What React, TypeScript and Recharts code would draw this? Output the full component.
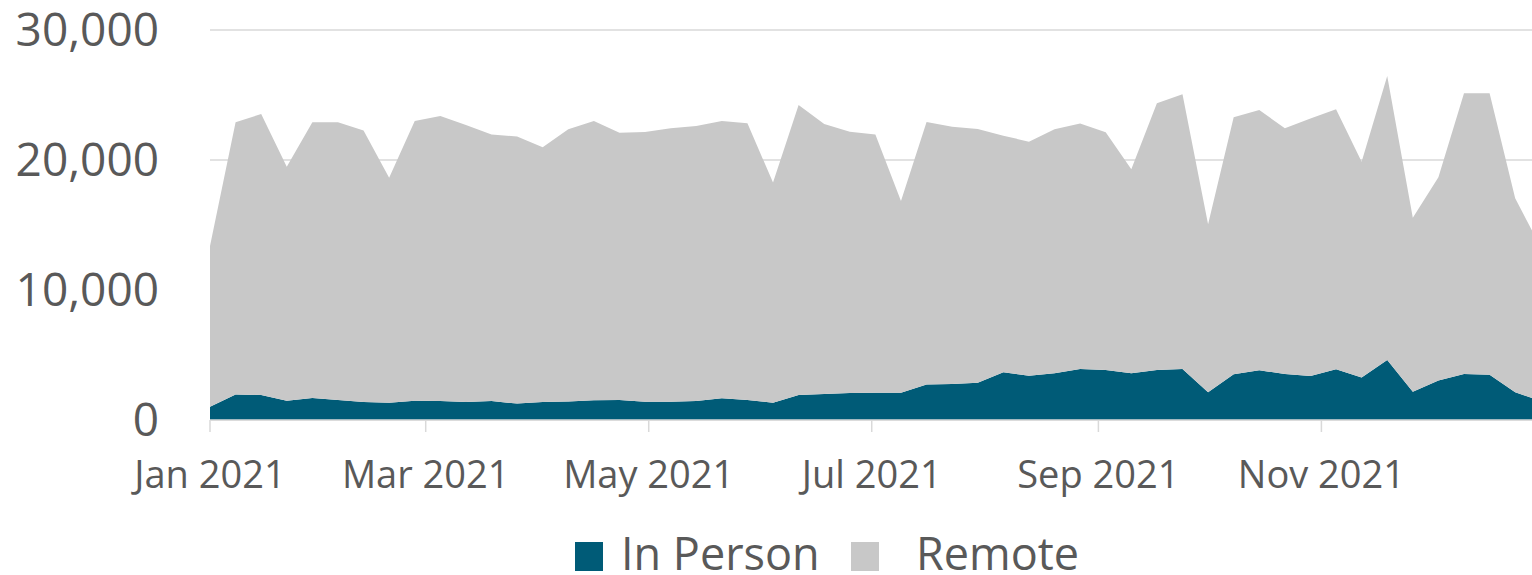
import React from 'react';
import { AreaChart, Area, XAxis, YAxis, CartesianGrid } from 'recharts';

// weekly buckets, 2021
const weeks = [
  '2021-01-01', '2021-01-08', '2021-01-15', '2021-01-22', '2021-01-29',
  '2021-02-05', '2021-02-12', '2021-02-19', '2021-02-26',
  '2021-03-05', '2021-03-12', '2021-03-19', '2021-03-26',
  '2021-04-02', '2021-04-09', '2021-04-16', '2021-04-23', '2021-04-30',
  '2021-05-07', '2021-05-14', '2021-05-21', '2021-05-28',
  '2021-06-04', '2021-06-11', '2021-06-18', '2021-06-25',
  '2021-07-02', '2021-07-09', '2021-07-16', '2021-07-23', '2021-07-30',
  '2021-08-06', '2021-08-13', '2021-08-20', '2021-08-27',
  '2021-09-03', '2021-09-10', '2021-09-17', '2021-09-24',
  '2021-10-01', '2021-10-08', '2021-10-15', '2021-10-22', '2021-10-29',
  '2021-11-05', '2021-11-12', '2021-11-19', '2021-11-26',
  '2021-12-03', '2021-12-10', '2021-12-17', '2021-12-24', '2021-12-31',
];

const inPerson = [
  1020, 1970, 1920, 1490, 1690, 1540, 1380, 1330, 1490,
  1460, 1380, 1460, 1260, 1380, 1430, 1510, 1540, 1410,
  1410, 1460, 1670, 1540, 1330, 1920, 2000, 2080, 2100,
  2100, 2740, 2770, 2870, 3670, 3410, 3590, 3920,
  3850, 3590, 3850, 3920, 2130, 3510, 3820, 3540, 3380,
  3900, 3260, 4620, 2180, 3030, 3540, 3490, 2130, 1450,
];

const remote = [
  12360, 20930, 21620, 18000, 21210, 21360, 20880, 17310, 21510,
  21920, 21310, 20510, 20540, 19600, 20930, 21490, 20560, 20740,
  21030, 21160, 21330, 21280, 16930, 22310, 20770, 20100, 19870,
  14750, 20180, 19790, 19510, 18200, 18000, 18770, 18880,
  18280, 15690, 20510, 21130, 12920, 19770, 20030, 18900, 19820,
  20000, 16610, 21840, 13380, 15640, 21590, 21640, 14920, 11830,
];

const xTickDates = ['2021-01-01', '2021-03-01', '2021-05-01', '2021-07-01', '2021-09-01', '2021-11-01'];
const yTicks = [0, 10000, 20000, 30000];

const MONTHS = ['Jan', 'Feb', 'Mar', 'Apr', 'May', 'Jun', 'Jul', 'Aug', 'Sep', 'Oct', 'Nov', 'Dec'];
const DAY = 24 * 60 * 60 * 1000;

const TEAL = '#005B77';
const GREY = '#C8C8C8';
const TEXT = '#595959';
const LINE = '#D9D9D9';
const FONT = '"Open Sans", "Noto Sans", sans-serif';

const data = weeks.map((w, i) => ({
  t: Date.parse(w),
  inPerson: inPerson[i],
  remote: remote[i],
}));

const start = Date.parse('2021-01-01');
// axis runs to the end of December, the last week is cut by the plot edge
const end = start + 361.6 * DAY;

const fmtDate = (t: number) => {
  const d = new Date(t);
  return `${MONTHS[d.getUTCMonth()]} ${d.getUTCFullYear()}`;
};

const legendText: React.CSSProperties = {
  position: 'absolute',
  top: 0,
  fontSize: 45,
  lineHeight: '44px',
  color: TEXT,
  whiteSpace: 'nowrap',
};

export default function App() {
  return (
    <div style={{ position: 'absolute', left: 0, top: 0, width: 1532, height: 575, background: '#fff', fontFamily: FONT }}>
      <AreaChart width={1532} height={575} data={data} margin={{ top: 30, right: 0, bottom: 0, left: 0 }}>
        <CartesianGrid vertical={false} stroke={LINE} strokeWidth={1.5} />
        <XAxis
          dataKey="t"
          type="number"
          domain={[start, end]}
          allowDataOverflow
          ticks={xTickDates.map((d) => Date.parse(d))}
          tickFormatter={fmtDate}
          height={155}
          axisLine={{ stroke: LINE, strokeWidth: 1.5 }}
          tickLine={{ stroke: LINE, strokeWidth: 1.5 }}
          tickSize={12}
          tickMargin={29}
          tick={{ fill: TEXT, fontSize: 38, fontFamily: FONT }}
        />
        <YAxis
          domain={[0, 30000]}
          ticks={yTicks}
          tickFormatter={(v: number) => v.toLocaleString('en-US')}
          width={210}
          axisLine={false}
          tickLine={false}
          tickSize={0}
          tickMargin={51}
          tick={{ fill: TEXT, fontSize: 46, fontFamily: FONT }}
        />
        <Area
          type="linear"
          dataKey="inPerson"
          name="In Person"
          stackId="1"
          stroke="none"
          fill={TEAL}
          fillOpacity={1}
          isAnimationActive={false}
        />
        <Area
          type="linear"
          dataKey="remote"
          name="Remote"
          stackId="1"
          stroke="none"
          fill={GREY}
          fillOpacity={1}
          isAnimationActive={false}
        />
      </AreaChart>

      {/* legend */}
      <div style={{ position: 'absolute', left: 0, top: 531, width: 1532, height: 44 }}>
        <span style={{ position: 'absolute', left: 575, top: 11, width: 28, height: 29, background: TEAL }} />
        <span style={{ ...legendText, left: 621 }}>In Person</span>
        <span style={{ position: 'absolute', left: 851, top: 11, width: 28, height: 29, background: GREY }} />
        <span style={{ ...legendText, left: 916 }}>Remote</span>
      </div>
    </div>
  );
}
